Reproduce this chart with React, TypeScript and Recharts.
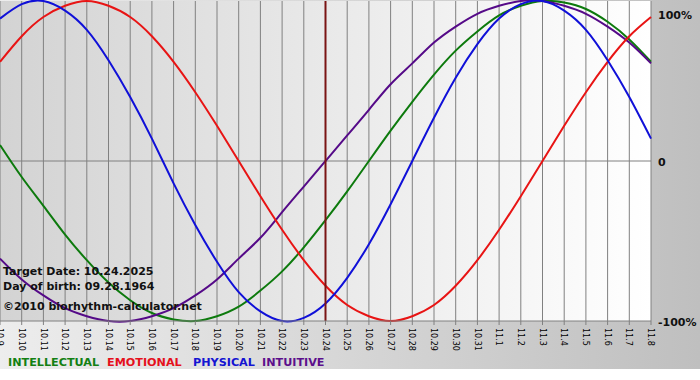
import React from "react";
import { LineChart, Line, XAxis, YAxis, CartesianGrid, ReferenceLine } from "recharts";

const dates = [
  "10.9", "10.10", "10.11", "10.12", "10.13", "10.14", "10.15", "10.16", "10.17", "10.18",
  "10.19", "10.20", "10.21", "10.22", "10.23", "10.24", "10.25", "10.26", "10.27", "10.28",
  "10.29", "10.30", "10.31", "11.1", "11.2", "11.3", "11.4", "11.5", "11.6", "11.7", "11.8",
];

const physical = [89, 98, 100, 94, 82, 63, 40, 14, -14, -40, -63, -82, -94, -100, -98, -89, -73, -52, -27, 0, 27, 52, 73, 89, 98, 100, 94, 82, 63, 40, 14];
const emotional = [62, 78, 90, 97, 100, 97, 90, 78, 62, 43, 22, 0, -22, -43, -62, -78, -90, -97, -100, -97, -90, -78, -62, -43, -22, 0, 22, 43, 62, 78, 90];
const intellectual = [10, -10, -28, -46, -62, -76, -87, -95, -99, -100, -97, -91, -81, -69, -54, -37, -19, 0, 19, 37, 54, 69, 81, 91, 97, 100, 99, 95, 87, 76, 62];
const intuitive = [-61, -74, -84, -92, -97, -100, -100, -97, -92, -84, -74, -61, -48, -32, -16, 0, 16, 32, 48, 61, 74, 84, 92, 97, 100, 100, 97, 92, 84, 74, 61];

const yTicks = [-100, 0, 100];
const yLabels: Record<number, string> = { 100: "100%", 0: "0", [-100]: "-100%" };
const targetDate = "10.24";

const infoLines = ["Target Date: 10.24.2025", "Day of birth: 09.28.1964", "©2010 biorhythm-calculator.net"];
const legendItems = [
  { name: "INTELLECTUAL", color: "#138013" },
  { name: "EMOTIONAL", color: "#e5101c" },
  { name: "PHYSICAL", color: "#1414d2" },
  { name: "INTUITIVE", color: "#5c0f8c" },
];

const data = dates.map((d, i) => ({
  date: d,
  intellectual: intellectual[i],
  emotional: emotional[i],
  physical: physical[i],
  intuitive: intuitive[i],
}));

const FONT = "'DejaVu Sans', Verdana, sans-serif";

const XTick = (props: any) => {
  const { x, y, payload } = props;
  return (
    <g transform={`translate(${x},${y})`}>
      <text
        transform="rotate(90)"
        x={1}
        y={0}
        dy="0.35em"
        textAnchor="start"
        fontFamily={FONT}
        fontSize={8}
        fill="#000"
      >
        {payload.value}
      </text>
    </g>
  );
};

const YTick = (props: any) => {
  const { x, y, payload } = props;
  const off = payload.value === 100 ? 10 : 5;
  return (
    <text x={x + 7} y={y + off} fontFamily={FONT} fontWeight="bold" fontSize={11} fill="#111">
      {yLabels[payload.value]}
    </text>
  );
};

const legendX = [8, 107, 193, 262];
const infoY = [275, 290, 310];

export default function App() {
  return (
    <div
      style={{
        position: "absolute",
        left: 0,
        top: 0,
        width: 700,
        height: 369,
        background: "linear-gradient(to right, #ededed, #bfbfbf)",
      }}
    >
      <svg width={0} height={0} style={{ position: "absolute" }}>
        <defs>
          <linearGradient id="plotGrad" x1="0" y1="0" x2="1" y2="0">
            <stop offset="0%" stopColor="#d3d3d3" />
            <stop offset="100%" stopColor="#ffffff" />
          </linearGradient>
        </defs>
      </svg>
      <LineChart width={700} height={369} data={data} margin={{ top: 1, right: 0, bottom: 0, left: 0 }}>
        <CartesianGrid horizontal={false} vertical={true} stroke="#808080" fill="url(#plotGrad)" />
        <XAxis
          dataKey="date"
          interval={0}
          height={48}
          tick={<XTick />}
          tickSize={4}
          tickLine={{ stroke: "#808080" }}
          axisLine={{ stroke: "#808080" }}
        />
        <YAxis
          orientation="right"
          width={49}
          domain={[-100, 100]}
          ticks={yTicks}
          tick={<YTick />}
          tickSize={0}
          tickMargin={0}
          tickLine={false}
          axisLine={false}
        />
        <ReferenceLine y={0} stroke="#808080" />
        <Line type="natural" dataKey="intellectual" stroke="#0d7a0d" strokeWidth={2} dot={false} isAnimationActive={false} />
        <Line type="natural" dataKey="intuitive" stroke="#550a88" strokeWidth={2} dot={false} isAnimationActive={false} />
        <Line type="natural" dataKey="emotional" stroke="#e81414" strokeWidth={2} dot={false} isAnimationActive={false} />
        <Line type="natural" dataKey="physical" stroke="#1010d8" strokeWidth={2} dot={false} isAnimationActive={false} />
        <ReferenceLine x={targetDate} stroke="#7a1414" strokeWidth={2} />
      </LineChart>
      <svg width={700} height={369} style={{ position: "absolute", left: 0, top: 0, pointerEvents: "none" }}>
        {infoLines.map((t, i) => (
          <text key={t} x={3} y={infoY[i]} fontFamily={FONT} fontWeight="bold" fontSize={11} fill="#111">
            {t}
          </text>
        ))}
        {legendItems.map((l, i) => (
          <text key={l.name} x={legendX[i]} y={366} fontFamily={FONT} fontWeight="bold" fontSize={11.2} fill={l.color}>
            {l.name}
          </text>
        ))}
      </svg>
    </div>
  );
}
